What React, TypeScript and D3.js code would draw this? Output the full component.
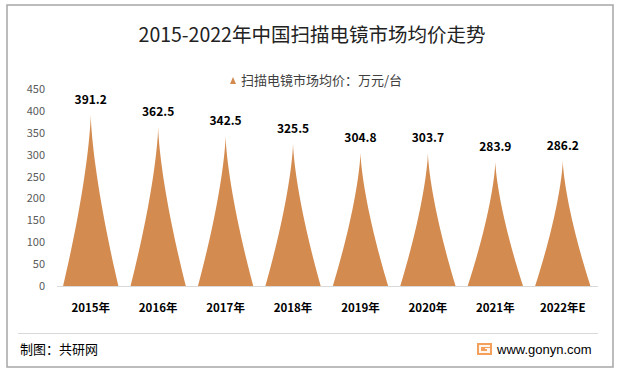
import * as d3 from "d3";
import React from "react";

const width = 619;
const height = 375;
const margin = { top: 89, right: 22, bottom: 89, left: 57 };

const years = ["2015年", "2016年", "2017年", "2018年", "2019年", "2020年", "2021年", "2022年E"];
const prices = [391.2, 362.5, 342.5, 325.5, 304.8, 303.7, 283.9, 286.2];
const yTicks = [0, 50, 100, 150, 200, 250, 300, 350, 400, 450];

const fill = "#D38B4F";

// concave "pointed" spike shape
const spikePath = (cx: number, half: number, y0: number, y1: number) => {
  const n = 30;
  const pts: [number, number][] = [];
  for (let i = 0; i <= n; i++) {
    const t = i / n;
    pts.push([cx - half * Math.pow(1 - t, 1.45), y0 + (y1 - y0) * t]);
  }
  for (let i = n - 1; i >= 0; i--) {
    const t = i / n;
    pts.push([cx + half * Math.pow(1 - t, 1.45), y0 + (y1 - y0) * t]);
  }
  return d3.line()(pts) + "Z";
};

const App = () => {
  const x = d3
    .scaleBand()
    .domain(years)
    .range([margin.left, width - margin.right - 0.5])
    .padding(0);
  const y = d3
    .scaleLinear()
    .domain([0, 450])
    .range([height - margin.bottom, margin.top]);

  const font = "'Microsoft YaHei', 'Noto Sans CJK SC', sans-serif";
  const half = x.bandwidth() * 0.41;

  return (
    <svg width={width} height={height} style={{ position: "absolute", left: 0, top: 0 }} fontFamily={font}>
      <rect x={0} y={0} width={width} height={height} fill="#fff" />
      <rect x={7} y={5} width={606} height={362} fill="#fff" stroke="#A6A6A6" strokeWidth={1.5} />

      <text x={312} y={42} textAnchor="middle" fontSize={19.5} fill="#222">
        2015-2022年中国扫描电镜市场均价走势
      </text>

      {/* legend */}
      <path d="M230,84 L233,77 L236,84 Z" fill={fill} />
      <text x={241} y={85} fontSize={13} fill="#404040">
        扫描电镜市场均价：万元/台
      </text>

      {/* y axis labels */}
      {yTicks.map((t) => (
        <text key={t} x={45} y={y(t) + 4} textAnchor="end" fontSize={11} fill="#595959">
          {t}
        </text>
      ))}

      {/* spikes */}
      {prices.map((v, i) => {
        const cx = (x(years[i]) as number) + x.bandwidth() / 2;
        return (
          <g key={years[i]}>
            <path d={spikePath(cx, half, y(0), y(v))} fill={fill} />
            <text x={cx} y={y(v) - 11} textAnchor="middle" fontSize={12} fontWeight="bold" fill="#000">
              {v.toFixed(1)}
            </text>
          </g>
        );
      })}

      {/* baseline */}
      <line x1={57} x2={598} y1={y(0) + 0.5} y2={y(0) + 0.5} stroke="#D9D9D9" strokeWidth={1} />

      {/* x labels */}
      {years.map((d) => (
        <text
          key={d}
          x={(x(d) as number) + x.bandwidth() / 2}
          y={312}
          textAnchor="middle"
          fontSize={11.5}
          fontWeight="bold"
          fill="#000"
        >
          {d}
        </text>
      ))}

      <line x1={18} x2={598} y1={333.5} y2={333.5} stroke="#D9D9D9" strokeWidth={1} />

      <text x={20} y={354} fontSize={13} fill="#000">
        制图：共研网
      </text>

      {/* logo */}
      <rect x={477} y={343} width={15} height={12} fill="#F5A05A" />
      <path d="M479,345 H490 V347 H481 V351 H487 V349 H485 V348 H490 V353 H479 Z" fill="#fff" opacity={0.9} />
      <text x={497} y={354} fontSize={13} fill="#000" fontFamily="Arial, 'Liberation Sans', sans-serif">
        www.gonyn.com
      </text>
    </svg>
  );
};

export default App;
